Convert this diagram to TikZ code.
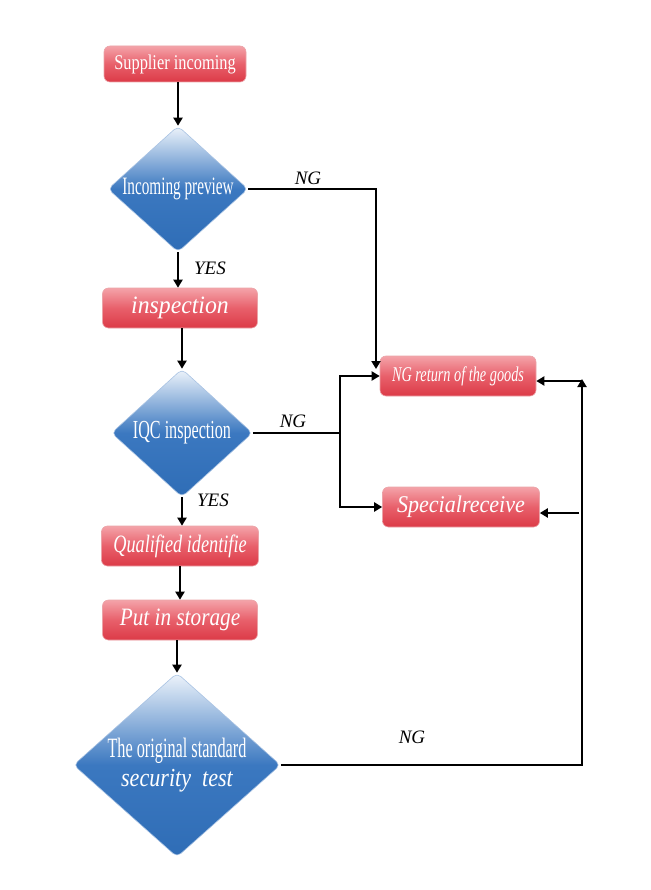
\documentclass[tikz,border=0pt]{standalone}
\usepackage{fontspec}
\usepackage{graphicx}
\setmainfont{Liberation Serif}
\usetikzlibrary{shapes.geometric,arrows.meta}
\definecolor{rtop}{HTML}{F4A3A9}
\definecolor{rmid}{HTML}{E8606B}
\definecolor{rbot}{HTML}{DC3A47}
\definecolor{rborder}{HTML}{EBA3A8}
\definecolor{btop}{HTML}{EEF4FB}
\definecolor{bmid}{HTML}{3B78C0}
\definecolor{bbot}{HTML}{2F6DB6}
\definecolor{bborder}{HTML}{A9C3E3}
\newcommand\sx[2]{\scalebox{#1}[1]{#2}}
\begin{document}
\begin{tikzpicture}[x=1pt,y=-1pt,
  redbox/.style={rounded corners=6pt, draw=rborder, line width=0.6pt,
    top color=rtop, bottom color=rbot, middle color=rmid,
    text=white, minimum height=40pt, inner sep=0pt},
  bluedia/.style={diamond, rounded corners=5pt, draw=bborder, line width=0.6pt,
    top color=btop, bottom color=bbot, middle color=bmid,
    text=white, inner sep=0pt, aspect=1.1, align=center},
  conn/.style={line width=2.8pt, -{Triangle[length=8pt,width=9pt]}},
  plain/.style={line width=2.8pt},
  lab/.style={font=\fontsize{19}{22}\selectfont\itshape, text=black, inner sep=0pt}
]
\useasboundingbox (0,0) rectangle (650,890);

% left column
\node[redbox, minimum width=142pt, minimum height=36pt] (sup) at (175,64)
  {\fontsize{21}{24}\selectfont\sx{0.78}{Supplier incoming}};
\node[bluedia, minimum width=140pt, minimum height=126pt] (d1) at (178,189)
  {\fontsize{25}{26}\selectfont\sx{0.61}{Incoming preview}};
\node[redbox, minimum width=155pt] (insp) at (180,308)
  {\fontsize{25}{26}\selectfont\itshape\sx{0.95}{inspection}};
\node[bluedia, minimum width=141pt, minimum height=128pt] (d2) at (182,433)
  {\fontsize{26}{27}\selectfont\sx{0.62}{IQC inspection}};
\node[redbox, minimum width=157pt] (qual) at (180,546)
  {\fontsize{25}{26}\selectfont\itshape\sx{0.73}{Qualified identifie}};
\node[redbox, minimum width=155pt] (stor) at (180,620)
  {\fontsize{25}{26}\selectfont\itshape\sx{0.85}{Put in storage}};
\node[bluedia, minimum width=207pt, minimum height=184pt] (d3) at (177,765)
  {\fontsize{28}{30}\selectfont\sx{0.58}{The original standard}\\[4pt]
   \fontsize{26}{28}\selectfont\itshape\sx{0.85}{security\ \ test}};

% right column
\node[redbox, minimum width=156pt] (ng) at (458,376)
  {\fontsize{21}{24}\selectfont\itshape\sx{0.68}{NG return of the goods}};
\node[redbox, minimum width=157pt] (sr) at (461,507)
  {\fontsize{24}{26}\selectfont\itshape\sx{0.92}{Specialreceive}};

% helper coordinates
\coordinate (ngtop) at (376,369);
\coordinate (br) at (340,435);
\coordinate (rtop) at (582,379);
\coordinate (rj) at (582,381);
\coordinate (sj) at (579,513);

% main flow
\draw[conn] (sup.south -| d1.north) -- (d1.north);
\draw[conn] (d1.south) -- (insp.north -| d1.south);
\draw[conn] (insp.south -| d2.north) -- (d2.north);
\draw[conn] (d2.south) -- (qual.north -| d2.south);
\draw[conn] (qual.south) -- (stor.north);
\draw[conn] (stor.south -| d3.north) -- (d3.north);

% NG branches
\draw[conn] (d1.east) -- (d1.east -| ngtop) -- (ngtop);
\draw[plain] (d2.east) -- (d2.east -| br);
\draw[conn] (d2.east -| br) |- (ng.west);
\draw[conn] (d2.east -| br) |- (sr.west);
\draw[conn] (d3.east) -| (rtop);
\draw[conn] (rj) -- (rj -| ng.east);
\draw[conn] (sj) -- (sj -| sr.east);

% labels
\node[lab] (l1) at (308,178) {NG};
\node[lab] (l2) at (210,268) {YES};
\node[lab] (l3) at (293,421) {NG};
\node[lab] (l4) at (213,500) {YES};
\node[lab] (l5) at (412,737) {NG};
\end{tikzpicture}
\end{document}
